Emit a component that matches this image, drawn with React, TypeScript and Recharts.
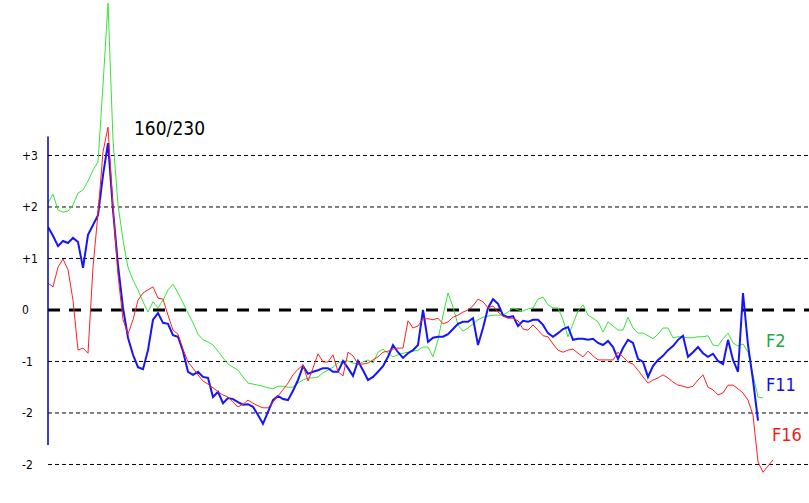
import React from "react";
import { LineChart, Line, XAxis, YAxis, ReferenceLine } from "recharts";

// sample positions along the x axis (one every step)
const samples = Array.from({ length: 146 }, (_, i) => i);

const f2 = [
  2.08, 2.25, 1.94, 1.9, 1.92, 2.04, 2.27, 2.33, 2.5, 2.72,
  2.87, 4.37, 5.96, 3.3, 2.04, 1.36, 0.83, 0.58, 0.39, 0.16,
  -0.04, 0.16, 0.04, 0.19, 0.39, 0.5, 0.33, 0.14, -0.06, -0.25,
  -0.47, -0.58, -0.62, -0.68, -0.8, -0.93, -1.05, -1.11, -1.17, -1.3,
  -1.42, -1.44, -1.46, -1.48, -1.51, -1.53, -1.48, -1.48, -1.5, -1.5,
  -1.42, -1.36, -1.32, -1.32, -1.3, -1.22, -1.17, -1.11, -1.03, -0.99,
  -0.99, -1.03, -1.05, -1.01, -0.97, -1.03, -0.82, -0.76, -0.84, -0.91,
  -0.87, -0.84, -0.82, -0.8, -0.78, -0.72, -0.72, -0.91, -0.58, -0.1,
  0.33, 0.06, -0.29, -0.41, -0.35, -0.27, -0.19, -0.14, -0.12, -0.1,
  -0.1, -0.1, -0.04, 0.04, 0.0, -0.02, 0.02, 0.04, 0.21, 0.25,
  0.1, 0.04, 0.04, -0.19, -0.52, -0.27, -0.02, 0.1, -0.1, -0.16,
  -0.23, -0.43, -0.23, -0.31, -0.39, -0.39, -0.14, -0.35, -0.45, -0.45,
  -0.5, -0.56, -0.47, -0.35, -0.35, -0.54, -0.52, -0.52, -0.54, -0.54,
  -0.52, -0.52, -0.5, -0.68, -0.7, -0.56, -0.45, -0.64, -0.7, -0.66,
  -0.82, -1.26, -1.69, -1.71, null, null,
];

const f11 = [
  1.61, 1.44, 1.24, 1.34, 1.3, 1.4, 1.32, 0.82, 1.46, 1.65,
  1.84, 2.62, 3.24, 1.94, 0.87, 0.04, -0.54, -0.87, -1.11, -1.15,
  -0.78, -0.19, -0.06, -0.25, -0.27, -0.49, -0.52, -0.8, -1.2, -1.26,
  -1.2, -1.3, -1.32, -1.69, -1.59, -1.81, -1.71, -1.73, -1.79, -1.84,
  -1.83, -1.88, -2.04, -2.21, -1.98, -1.75, -1.67, -1.73, -1.75, -1.57,
  -1.36, -1.09, -1.24, -1.2, -1.17, -1.13, -1.13, -1.2, -1.2, -0.99,
  -1.13, -1.28, -0.99, -1.17, -1.36, -1.3, -1.2, -1.09, -0.91, -0.68,
  -0.82, -0.93, -0.84, -0.78, -0.68, 0.0, -0.62, -0.54, -0.52, -0.52,
  -0.47, -0.37, -0.27, -0.23, -0.23, -0.16, -0.68, -0.35, 0.04, 0.21,
  0.12, -0.1, -0.14, -0.12, -0.31, -0.21, -0.23, -0.19, -0.19, -0.29,
  -0.45, -0.52, -0.45, -0.37, -0.33, -0.58, -0.56, -0.56, -0.58, -0.56,
  -0.64, -0.68, -0.6, -0.72, -0.95, -0.74, -0.58, -0.64, -0.95, -1.01,
  -1.3, -1.09, -0.97, -0.89, -0.78, -0.7, -0.58, -0.5, -0.91, -0.82,
  -0.72, -0.84, -0.91, -0.85, -0.99, -1.05, -0.58, -0.97, -1.2, 0.33,
  -0.68, -1.36, -2.15, null, null, null,
];

const f16 = [
  0.52, 0.45, 0.83, 0.99, 0.78, 0.19, -0.78, -0.74, -0.84, 0.83,
  1.88, 3.07, 3.55, 1.98, 0.68, -0.19, -0.47, -0.19, 0.19, 0.33,
  0.39, 0.45, 0.23, 0.21, -0.1, -0.39, -0.47, -0.76, -1.01, -1.13,
  -1.26, -1.38, -1.44, -1.51, -1.59, -1.65, -1.69, -1.79, -1.88, -1.83,
  -1.75, -1.81, -1.86, -1.9, -1.9, -1.79, -1.67, -1.55, -1.42, -1.26,
  -1.15, -1.07, -1.38, -1.13, -0.85, -1.01, -1.01, -0.87, -1.2, -1.28,
  -0.82, -0.89, -1.05, -1.05, -1.03, -0.97, -0.91, -0.82, -0.8, -0.76,
  -0.74, -0.74, -0.21, -0.35, -0.31, -0.17, -0.17, -0.19, -0.16, -0.27,
  -0.23, -0.14, -0.1, -0.04, 0.0, 0.08, 0.21, 0.16, 0.04, 0.08,
  -0.04, -0.12, -0.16, -0.16, -0.21, -0.37, -0.39, -0.29, -0.39, -0.5,
  -0.52, -0.66, -0.78, -0.82, -0.78, -0.76, -0.84, -0.91, -0.8, -0.89,
  -0.97, -0.97, -0.97, -0.97, -0.82, -0.91, -1.01, -1.05, -1.17, -1.3,
  -1.42, -1.36, -1.32, -1.26, -1.32, -1.4, -1.46, -1.48, -1.51, -1.48,
  -1.36, -1.26, -1.5, -1.55, -1.65, -1.61, -1.46, -1.46, -1.53, -1.61,
  -1.75, -2.04, -2.95, -3.15, -3.03, -2.91,
];

const yTicks = [3, 2, 1, 0, -1, -2, -3];
const yTickLabels = ["+3", "+2", "+1", "0", "-1", "-2", "-2"];
const dashedLevels = [3, 2, 1, -1, -2, -3];

const data = samples.map((x, i) => ({ x, f2: f2[i], f11: f11[i], f16: f16[i] }));

const FONT = "'DejaVu Sans Condensed', 'DejaVu Sans', sans-serif";

const YTick = (props: any) => {
  const { y, payload } = props;
  const label = yTickLabels[yTicks.indexOf(payload.value)];
  return (
    <text x={22} y={y} dy={4.5} textAnchor="start" fontSize={12} fontFamily={FONT} fill="#000">
      {label}
    </text>
  );
};

const App: React.FC = () => {
  return (
    <div style={{ position: "absolute", left: 0, top: 0, width: 809, height: 503, background: "#fff" }}>
      <LineChart width={809} height={503} data={data} margin={{ top: 0, right: 0, bottom: 0, left: 0 }}>
        <XAxis type="number" dataKey="x" domain={[0, 152.2]} hide allowDataOverflow />
        <YAxis
          type="number"
          width={48}
          domain={[-3.748, 6.019]}
          ticks={yTicks}
          allowDataOverflow
          axisLine={false}
          tickLine={false}
          tick={<YTick />}
        />
        {dashedLevels.map((v) => (
          <ReferenceLine key={v} y={v} stroke="#000" strokeWidth={1} strokeDasharray="4 3" />
        ))}
        <ReferenceLine y={0} stroke="#000" strokeWidth={3} strokeDasharray="12 9" />
        <Line type="linear" dataKey="f2" stroke="#33e633" strokeWidth={1} dot={false} isAnimationActive={false} />
        <Line type="linear" dataKey="f11" stroke="#1414ff" strokeWidth={2} dot={false} isAnimationActive={false} />
        <Line type="linear" dataKey="f16" stroke="#ff2020" strokeWidth={1} dot={false} isAnimationActive={false} />
        <ReferenceLine
          segment={[{ x: 0, y: 3.37 }, { x: 0, y: -2.62 }]}
          stroke="#0000b4"
          strokeWidth={1.5}
        />
      </LineChart>
      <svg
        width={809}
        height={503}
        style={{ position: "absolute", left: 0, top: 0, pointerEvents: "none" }}
        fontFamily={FONT}
      >
        <text x={134} y={135} fontSize={19} fill="#000">160/230</text>
        <text x={766} y={347} fontSize={18} fill="#1fa843">F2</text>
        <text x={766} y={391} fontSize={18} fill="#1010e6">F11</text>
        <text x={772} y={441} fontSize={18} fill="#ee1a1a">F16</text>
      </svg>
    </div>
  );
};

export default App;
